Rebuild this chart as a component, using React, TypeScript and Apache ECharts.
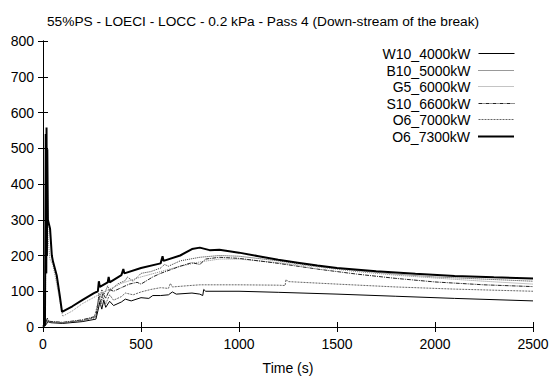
import React, { useEffect, useRef } from "react";
import * as echarts from "echarts";

const titleText = "55%PS - LOECI - LOCC - 0.2 kPa - Pass 4 (Down-stream of the break)";
const seriesNames = ["W10_4000kW", "B10_5000kW", "G5_6000kW", "S10_6600kW", "O6_7000kW", "O6_7300kW"];

const w10: number[][] = [[0,0],[15,6],[25,15],[40,12],[100,10],[200,15],[270,22],[280,45],[290,70],[300,50],[310,75],[320,55],[340,72],[360,60],[400,70],[420,78],[450,73],[500,82],[540,80],[560,88],[600,88],[640,90],[660,98],[680,92],[760,95],[800,92],[815,88],[820,105],[830,100],[1000,100],[1200,97],[1500,92],[1800,86],[2100,80],[2500,73]];
const b10: number[][] = [[0,0],[15,10],[20,20],[30,15],[100,12],[200,18],[270,28],[280,60],[285,95],[290,80],[300,105],[310,90],[330,115],[340,100],[380,120],[420,130],[430,140],[460,128],[500,150],[550,155],[600,165],[620,175],[640,170],[700,185],[750,190],[800,195],[900,200],[1000,198],[1200,185],[1400,170],[1600,158],[1800,148],[2000,140],[2250,134],[2500,128]];
const g5: number[][] = [[0,2],[12,10],[18,500],[20,150],[22,450],[26,250],[35,190],[50,175],[70,120],[100,30],[150,45],[200,65],[300,95],[400,122],[500,140],[600,155],[700,170],[800,182],[900,190],[1000,190],[1200,180],[1400,168],[1600,155],[1800,145],[2000,137],[2250,128],[2500,120]];
const s10: number[][] = [[0,0],[15,12],[22,25],[30,16],[100,13],[200,20],[270,30],[285,85],[295,70],[305,95],[320,80],[340,105],[360,100],[400,110],[440,120],[480,125],[500,120],[560,140],[600,150],[650,160],[700,170],[760,180],[800,175],[830,190],[900,195],[1000,192],[1200,178],[1400,162],[1600,148],[1800,136],[2000,126],[2250,118],[2500,113]];
const o6a: number[][] = [[0,0],[15,8],[25,18],[40,14],[100,12],[200,18],[260,25],[275,55],[285,80],[295,60],[305,85],[320,65],[340,90],[360,75],[400,85],[420,95],[460,90],[500,98],[550,105],[600,110],[640,108],[650,122],[660,112],[750,116],[800,118],[1000,118],[1200,117],[1235,116],[1240,133],[1250,127],[1500,120],[1800,112],[2100,106],[2500,100]];
const o6b: number[][] = [[0,2],[10,5],[14,540],[16,150],[18,558],[20,200],[22,497],[25,300],[36,275],[45,200],[51,183],[70,144],[85,90],[97,42],[150,58],[200,75],[260,95],[280,100],[285,128],[290,112],[330,125],[335,140],[340,125],[400,145],[410,162],[415,150],[500,165],[600,178],[610,198],[615,185],[700,200],[760,218],[800,222],[850,215],[900,216],[950,212],[1000,208],[1100,198],[1200,188],[1300,180],[1400,172],[1500,165],[1700,156],[1900,149],[2100,143],[2300,139],[2500,136]];

const xTicks = { min: 0, max: 2500, interval: 500 };
const yTicks = { min: 0, max: 800, interval: 100 };

const FONT = "'Liberation Sans', Arial, sans-serif";

export default function App() {
  const ref = useRef<HTMLDivElement>(null);
  useEffect(() => {
    if (!ref.current) return;
    const chart = echarts.init(ref.current, undefined, { renderer: "svg" });
    const dataSets = [w10, b10, g5, s10, o6a, o6b];
    const styles = [
      { color: "#000", width: 1, type: "solid" },
      { color: "#333", width: 1, type: [1, 1] },
      { color: "#888", width: 1, type: [1, 1] },
      { color: "#222", width: 1, type: [4, 1, 1, 1] },
      { color: "#666", width: 1, type: [2, 1] },
      { color: "#000", width: 2, type: "solid" },
    ];
    const series = seriesNames.map((name, i) => ({
      name,
      type: "line",
      data: dataSets[i],
      symbol: "none",
      showSymbol: false,
      xAxisIndex: 0,
      yAxisIndex: 0,
      lineStyle: styles[i],
      itemStyle: { color: styles[i].color },
    }));
    const legends = seriesNames.map((name, i) => ({
      data: [name],
      right: 43,
      top: 46.5 + Math.round(i * 16.5),
      align: "right",
      itemWidth: 36,
      itemHeight: 1,
      itemGap: 0,
      padding: 0,
      selectedMode: false,
      itemStyle: { opacity: 0 },
      lineStyle: { width: styles[i].width, type: styles[i].type, color: styles[i].color, cap: "butt" },
      textStyle: { fontFamily: FONT, fontSize: 14, color: "#000", padding: [0, 3, 0, 0] },
    }));
    const axisCommon = {
      axisLine: { show: true, lineStyle: { color: "#000", width: 1 } },
      axisTick: { show: true, inside: true, length: 5, lineStyle: { color: "#000" } },
      splitLine: { show: false },
    };
    chart.setOption({
      animation: false,
      backgroundColor: "#fff",
      title: {
        text: titleText,
        left: 42,
        top: 9,
        textStyle: { fontFamily: FONT, fontSize: 13.7, fontWeight: "normal", color: "#000" },
      },
      legend: legends,
      grid: { left: 43, right: 25, top: 41, bottom: 51, containLabel: false },
      xAxis: [
        {
          type: "value",
          ...xTicks,
          position: "bottom",
          ...axisCommon,
          name: "Time (s)",
          nameLocation: "middle",
          nameGap: 34,
          nameTextStyle: { fontFamily: FONT, fontSize: 14, color: "#000", verticalAlign: "top" },
          axisLabel: { fontFamily: FONT, fontSize: 14, color: "#000", margin: 10, formatter: (v: number) => String(v) },
        },
        {
          type: "value",
          ...xTicks,
          position: "top",
          ...axisCommon,
          axisLabel: { show: false },
        },
      ],
      yAxis: [
        {
          type: "value",
          ...yTicks,
          position: "left",
          ...axisCommon,
          axisLabel: { fontFamily: FONT, fontSize: 14, color: "#000", margin: 9, formatter: (v: number) => String(v) },
        },
        {
          type: "value",
          ...yTicks,
          position: "right",
          ...axisCommon,
          axisLabel: { show: false },
        },
      ],
      series,
    });
    return () => chart.dispose();
  }, []);
  return (
    <div
      ref={ref}
      style={{ position: "fixed", left: 0, top: 0, width: 558, height: 380, background: "#fff" }}
    />
  );
}
